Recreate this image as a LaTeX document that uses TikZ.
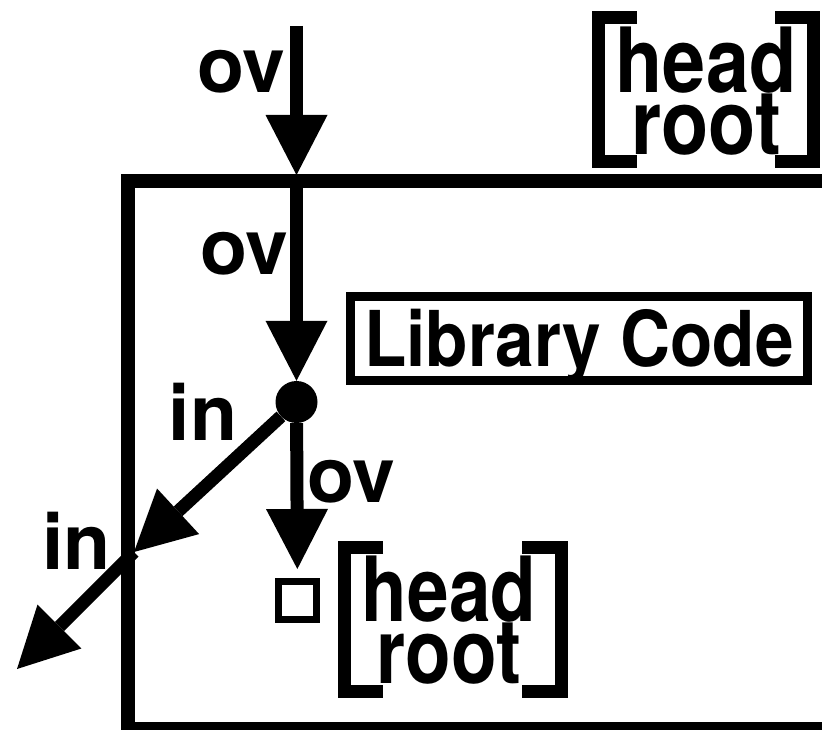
\documentclass[tikz,border=0pt]{standalone}
\usepackage{fontspec}
\setmainfont{TeX Gyre Heros}
\usetikzlibrary{arrows.meta}
\begin{document}
\begin{tikzpicture}[x=1pt,y=-1pt,
  frame/.style={line width=14pt, line join=miter},
  flow/.style={line width=13pt, -{Triangle[length=60pt,width=62pt,line width=0pt]}},
  lbl/.style={font=\fontsize{77}{77}\selectfont\bfseries, inner sep=0pt, anchor=base},
  hr/.style={font=\fontsize{90}{62}\selectfont\bfseries, align=center, inner sep=0pt},
  brk/.style={line width=13pt, line join=miter, line cap=butt},
  libbox/.style={draw, line width=9pt, minimum width=457pt, minimum height=84pt, inner sep=0pt,
    text height=55pt, text depth=0pt, font=\fontsize{77}{77}\selectfont\bfseries},
  dotnode/.style={circle, fill, minimum size=42pt, inner sep=0pt},
  sqnode/.style={draw, line width=7pt, minimum size=38pt, inner sep=0pt}
]
\useasboundingbox (0,0) rectangle (822,730);

% main frame (cut by the right and bottom edges)
\draw[frame] (850,181.5) -- (127.5,181.5) -- (127.5,729) -- (850,729);

% nodes
\node[dotnode] (dot) at (296.5,402) {};
\node[sqnode] (sq) at (297.5,600.5) {};
\node[libbox] (lib) at (579,338.5) {\scalebox{0.9}[1]{Library Code}};
\node[hr] (hr1) at (706,91.5) {\scalebox{0.86}[1]{head}\\\scalebox{0.86}[1]{root}};
\node[hr] (hr2) at (449,620.5) {\scalebox{0.83}[1]{head}\\\scalebox{0.83}[1]{root}};

% brackets
\draw[brk] ([shift={(-69,-74)}]hr1.center) -- ++(-38.5,0) -- ++(0,144) -- ++(38.5,0);
\draw[brk] ([shift={(69,-74)}]hr1.center) -- ++(38.5,0) -- ++(0,144) -- ++(-38.5,0);
\draw[brk] ([shift={(-66,-73)}]hr2.center) -- ++(-39,0) -- ++(0,144) -- ++(39,0);
\draw[brk] ([shift={(73,-73)}]hr2.center) -- ++(39,0) -- ++(0,144) -- ++(-39,0);

% coordinates
\coordinate (src) at (296.5,26);
\coordinate (entry) at (296.5,175);
\coordinate (edge) at (134,552);
\coordinate (out) at (17,669);

% connectors
\draw[flow] (src) -- (entry);
\draw[flow] (entry) -- (dot);
\draw[flow, shorten >=9pt] (dot) -- (sq);
\draw[flow] (dot) -- (edge);
\draw[flow] (edge) -- (out);

% labels
\node[lbl] (ov1) at (241,93) {ov};
\node[lbl] (ov2) at (244,274) {ov};
\node[lbl] (ov3) at (351.5,502) {ov};
\node[lbl] (in1) at (203,440) {in};
\node[lbl] (in2) at (76.5,569) {in};
\end{tikzpicture}
\end{document}
